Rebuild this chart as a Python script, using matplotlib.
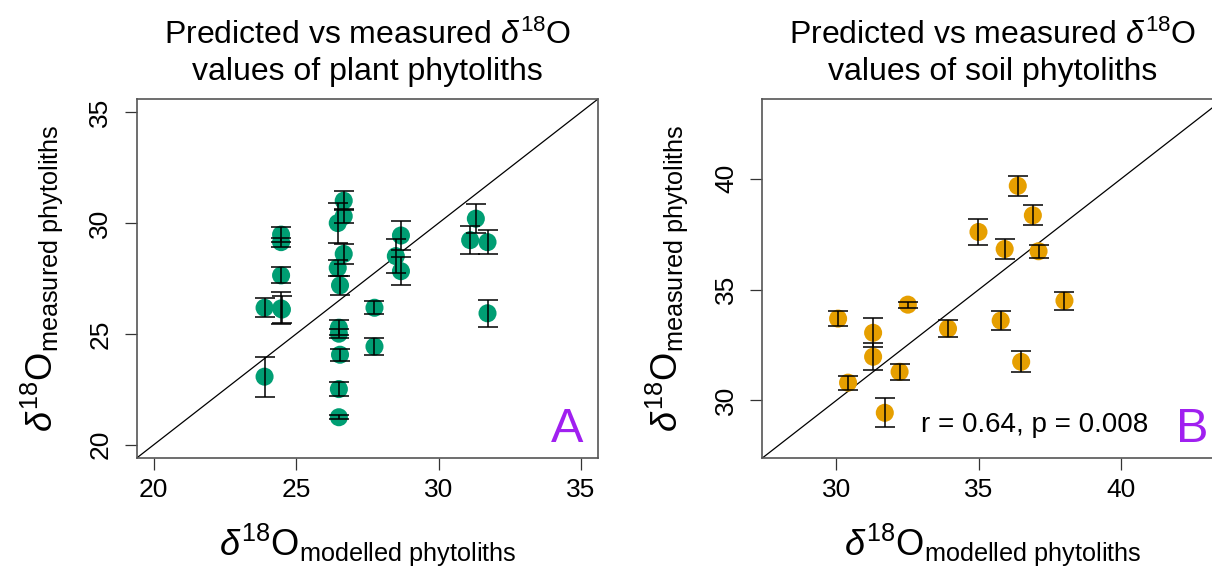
import matplotlib.pyplot as plt

plt.rcParams['font.family'] = 'Liberation Sans'
plt.rcParams['mathtext.fontset'] = 'custom'
plt.rcParams['mathtext.rm'] = 'Liberation Sans'
plt.rcParams['mathtext.it'] = 'Liberation Sans:italic'

# Plant phytoliths: modelled vs measured d18O with measurement error
plant_model = [23.89, 23.89, 24.47, 24.47, 24.47, 24.47, 24.50, 26.67, 26.67, 26.46,
               26.67, 26.46, 26.54, 26.50, 26.50, 26.54, 26.50, 26.50, 27.75, 27.75,
               28.68, 28.50, 28.68, 31.31, 31.11, 31.72, 31.72]
plant_meas = [23.07, 26.18, 29.48, 29.14, 27.64, 26.15, 26.10, 31.01, 30.31, 30.00,
              28.61, 27.98, 27.19, 25.28, 25.01, 24.06, 22.51, 21.24, 26.18, 24.43,
              29.44, 28.51, 27.83, 30.20, 29.23, 29.14, 25.93]
plant_err = [0.90, 0.43, 0.35, 0.20, 0.36, 0.72, 0.62, 0.42, 0.32, 0.90,
             0.45, 0.35, 0.43, 0.35, 0.20, 0.28, 0.33, 0.09, 0.30, 0.39,
             0.64, 0.75, 0.62, 0.64, 0.64, 0.54, 0.60]

# Soil phytoliths
soil_model = [30.06, 30.41, 31.29, 31.29, 31.70, 32.22, 32.51, 33.92,
              34.99, 35.77, 35.91, 36.37, 36.49, 36.90, 37.10, 38.01]
soil_meas = [33.69, 30.80, 33.05, 31.97, 29.44, 31.29, 34.32, 33.24,
             37.60, 33.60, 36.83, 39.68, 31.74, 38.35, 36.73, 34.50]
soil_err = [0.33, 0.32, 0.65, 0.60, 0.65, 0.37, 0.13, 0.40,
            0.60, 0.42, 0.43, 0.44, 0.47, 0.45, 0.30, 0.41]

plant_lim = (20, 35)
soil_lim = (28, 43)
plant_ticks = [20, 25, 30, 35]
soil_ticks = [30, 35, 40]


def pad_lim(lim):
    # R-style 4% extension of the axis range
    d = (lim[1] - lim[0]) * 0.04
    return (lim[0] - d, lim[1] + d)


def panel(ax, x, y, err, color, lim, ticks, kind, letter):
    ax.scatter(x, y, s=13 ** 2, color=color, edgecolors='none', zorder=2)
    ax.errorbar(x, y, yerr=err, fmt='none', ecolor='black', elinewidth=1.1,
                capsize=7, capthick=1.1, zorder=3)
    ax.set_xlim(pad_lim(lim))
    ax.set_ylim(pad_lim(lim))
    lo, hi = pad_lim(lim)
    ax.plot([lo, hi], [lo, hi], color='black', lw=0.9, zorder=1)
    ax.set_xticks(ticks)
    ax.set_yticks(ticks)
    ax.tick_params(length=8.5, width=0.9, color='#333333', labelsize=19, pad=6)
    ax.tick_params(axis='y', pad=9)
    for lab in ax.get_yticklabels():
        lab.set_rotation(90)
        lab.set_va('center')
    for s in ax.spines.values():
        s.set_color('#555555')
        s.set_linewidth(1.2)
    ax.text(0.5, 1.033, 'Predicted vs measured $\\delta^{18}$O\nvalues of ' + kind + ' phytoliths',
            transform=ax.transAxes, ha='center', va='bottom', fontsize=23, linespacing=1.25)
    ax.text(0.5, -0.27, '$\\delta^{18}\\mathrm{O}_{\\mathrm{modelled\\ phytoliths}}$',
            transform=ax.transAxes, ha='center', va='baseline', fontsize=26)
    ax.text(-0.184, 0.5, '$\\delta^{18}\\mathrm{O}_{\\mathrm{measured\\ phytoliths}}$',
            transform=ax.transAxes, ha='center', va='baseline', fontsize=26,
            rotation=90, rotation_mode='anchor')
    ax.text(0.933, 0.045, letter, transform=ax.transAxes, ha='center', va='baseline',
            fontsize=35, color='#A020F0')


fig = plt.figure(figsize=(12.12, 5.66), dpi=100)
ax1 = fig.add_axes([0.1128, 0.1908, 0.3806, 0.6343])
ax2 = fig.add_axes([0.629, 0.1908, 0.3806, 0.6343])

panel(ax1, plant_model, plant_meas, plant_err, '#009E73', plant_lim, plant_ticks, 'plant', 'A')
panel(ax2, soil_model, soil_meas, soil_err, '#E69F00', soil_lim, soil_ticks, 'soil', 'B')
ax2.text(0.591, 0.073, 'r = 0.64, p = 0.008', transform=ax2.transAxes,
         ha='center', va='baseline', fontsize=20)

fig.savefig('out.png', dpi=100)
